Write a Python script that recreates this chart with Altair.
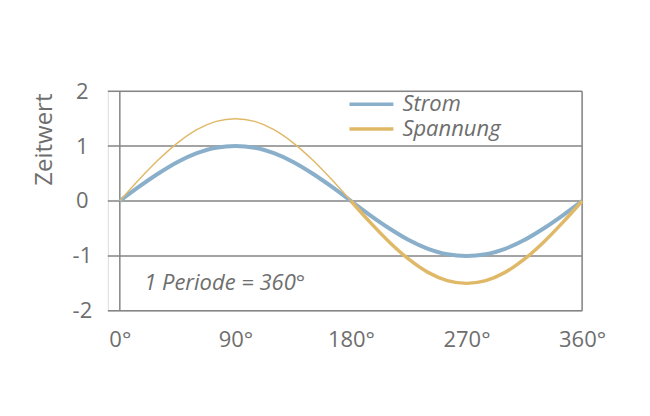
import altair as alt
import pandas as pd

degrees = [0, 15, 30, 45, 60, 75, 90, 105, 120, 135, 150, 165, 180,
           195, 210, 225, 240, 255, 270, 285, 300, 315, 330, 345, 360]
strom = [0, 0.26, 0.5, 0.71, 0.87, 0.97, 1.0, 0.97, 0.87, 0.71, 0.5, 0.26, 0,
         -0.26, -0.5, -0.71, -0.87, -0.97, -1.0, -0.97, -0.87, -0.71, -0.5, -0.26, 0]
spannung = [0, 0.39, 0.75, 1.06, 1.3, 1.45, 1.5, 1.45, 1.3, 1.06, 0.75, 0.39, 0,
            -0.39, -0.75, -1.06, -1.3, -1.45, -1.5, -1.45, -1.3, -1.06, -0.75, -0.39, 0]
series = ["Strom", "Spannung"]
colors = ["#8aafca", "#e0b968"]
x_ticks = [0, 90, 180, 270, 360]
x_borders = [0, 360]
y_ticks = [-2, -1, 0, 1, 2]
annotation = "1 Periode = 360°"

rows = []
for d, v in zip(degrees, strom):
    rows.append({"deg": d, "val": v, "series": "Strom", "seg": "s", "w": 4})
for d, v in zip(degrees, spannung):
    if d <= 180:
        rows.append({"deg": d, "val": v, "series": "Spannung", "seg": "a", "w": 1.5})
    if d >= 180:
        rows.append({"deg": d, "val": v, "series": "Spannung", "seg": "b", "w": 3.5})
df = pd.DataFrame(rows)
df["order"] = df["series"].map({"Strom": 0, "Spannung": 1})

FONT = "Open Sans"
FS = 22
TXT = "#6e6e6e"
GRID = "#858585"
W, H, OFF = 475, 220, 12

xscale = alt.Scale(domain=[0, 360], range=[OFF, W], nice=False, zero=False)
yscale = alt.Scale(domain=[-2, 2], nice=False)
cscale = alt.Scale(domain=series, range=colors)

xaxis = alt.Axis(values=x_ticks, labelExpr="datum.value + '°'", title=None,
                 grid=False, ticks=False, domain=False, labelPadding=19, labelFlush=False,
                 labelFontSize=FS, labelColor=TXT, labelFont=FONT)
yaxis = alt.Axis(values=y_ticks, title="Zeitwert", grid=False, ticks=False, domain=False,
                 labelExpr="datum.value < 0 ? '-' + abs(datum.value) : '' + datum.value",
                 labelAlign="center", labelPadding=26, labelFontSize=FS, labelColor=TXT,
                 labelFont=FONT, labelFlush=False,
                 titleFont=FONT, titleFontSize=24, titleColor=TXT, titleFontWeight="normal",
                 titleX=-63, titleY=48, titleAlign="center", titleBaseline="middle")

# horizontal grid lines, reaching a little to the left of the 0° line
grid = alt.Chart(pd.DataFrame({"val": y_ticks})).mark_rule(color=GRID, strokeWidth=1.5).encode(
    y=alt.Y("val:Q", scale=yscale, axis=yaxis),
    x=alt.value(0), x2=alt.value(W),
)

# vertical frame lines at 0° and 360°
borders = alt.Chart(pd.DataFrame({"deg": x_borders})).mark_rule(color=GRID, strokeWidth=1.5).encode(
    x=alt.X("deg:Q", scale=xscale, axis=xaxis)
)

lines = alt.Chart(df).mark_line(interpolate="monotone").encode(
    x=alt.X("deg:Q", scale=xscale, axis=xaxis),
    y=alt.Y("val:Q", scale=yscale, axis=yaxis),
    color=alt.Color("series:N", scale=cscale, legend=None),
    strokeWidth=alt.StrokeWidth("w:Q", scale=None, legend=None),
    detail="seg:N",
    order="order:Q",
)

note = alt.Chart(pd.DataFrame({"deg": [19], "val": [-1.5], "t": [annotation]})).mark_text(
    align="left", baseline="middle", fontSize=FS, fontStyle="italic", color=TXT, font=FONT
).encode(x=alt.X("deg:Q", scale=xscale, axis=xaxis),
         y=alt.Y("val:Q", scale=yscale, axis=yaxis), text="t:N")

# legend (drawn manually)
legend_layers = []
for i, (name, col) in enumerate(zip(series, colors)):
    ly = 13 + 25 * i
    ld = pd.DataFrame({"series": [name]})
    legend_layers.append(
        alt.Chart(ld).mark_rule(strokeWidth=3.5, color=col).encode(
            x=alt.value(242), x2=alt.value(286), y=alt.value(ly)))
    legend_layers.append(
        alt.Chart(ld).mark_text(align="left", baseline="middle", fontSize=FS,
                                fontStyle="italic", color=TXT, font=FONT).encode(
            x=alt.value(295), y=alt.value(ly), text="series:N"))

chart = alt.layer(grid, borders, lines, note, *legend_layers).properties(
    width=W, height=H,
    autosize=alt.AutoSizeParams(type="none"),
    padding={"left": 100, "top": 83, "right": 60, "bottom": 90},
).configure_view(stroke=None).configure(background="white")

chart.save("out.html", embed_options={"renderer": "svg", "actions": False})
